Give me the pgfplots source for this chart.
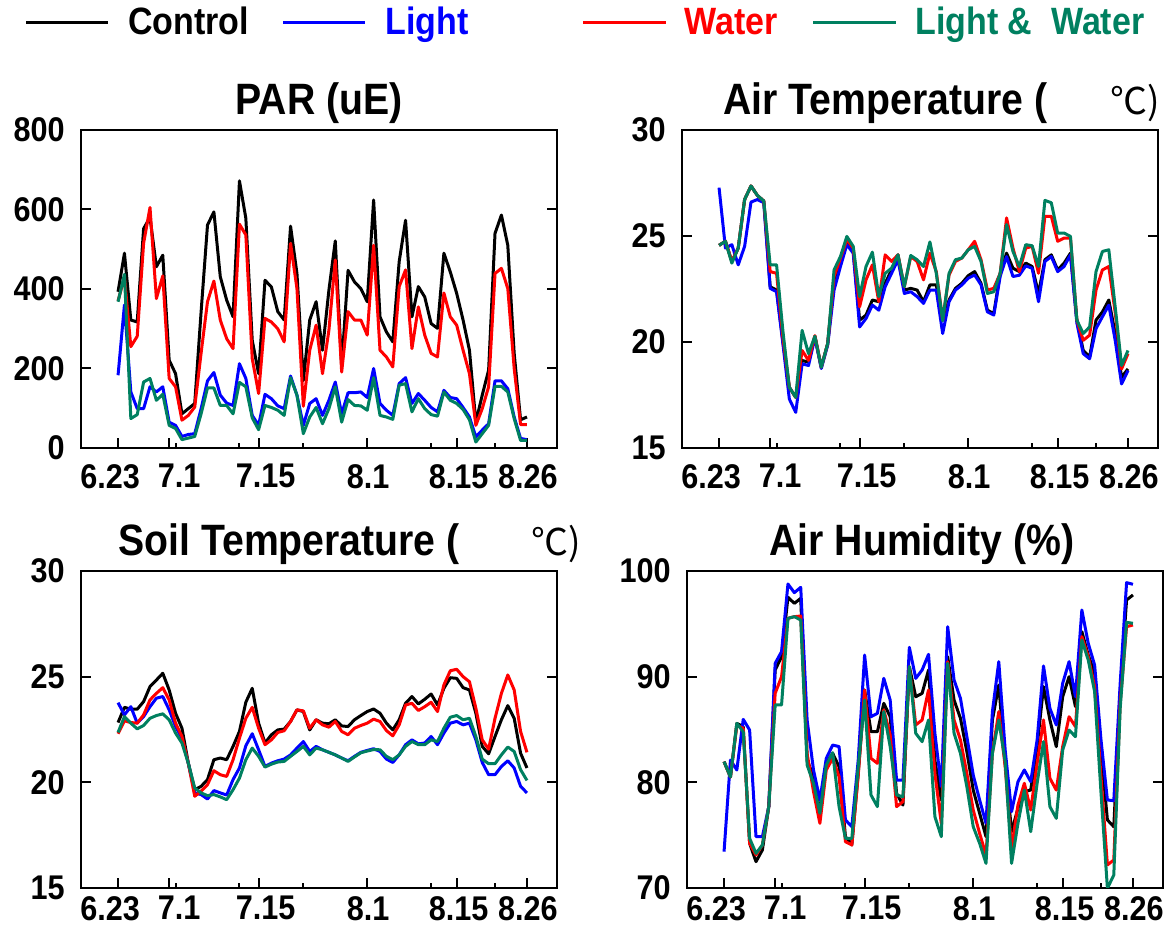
\documentclass[border=0pt]{standalone}
\usepackage{fontspec}
\setmainfont{Liberation Sans}
\newfontfamily\cjk{Noto Sans CJK SC}
\usepackage{graphicx}
\usepackage{pgfplots}
\usepackage{pgfplotstable}
\pgfplotsset{compat=1.18}
\definecolor{lwgreen}{RGB}{0,128,96}
\definecolor{lblue}{RGB}{0,0,255}
\definecolor{wred}{RGB}{255,0,0}
\newcommand\vs[1]{\scalebox{1}[1.12]{#1}}
\newcommand\xs[2]{\makebox[0pt]{\hspace{#1}\vs{#2}}}

\pgfplotstableread{
d c l w lw
0 393 183 370 368
1 490 360 430 437
2 322 141 255 74
3 317 99 281 84
4 552 99 515 166
5 580 154 605 175
6 456 141 376 120
7 485 154 433 135
8 221 65 175 57
9 187 57 154 49
10 86 29 70 21
11 99 34 82 25
12 112 36 103 29
13 343 99 239 86
14 561 169 368 151
15 594 190 420 151
16 431 133 322 107
17 372 113 275 107
18 330 107 250 86
19 672 212 563 165
20 578 175 536 154
21 271 82 225 76
22 187 57 137 46
23 422 135 326 107
24 405 124 317 102
25 343 106 300 95
26 322 99 267 82
27 558 181 515 177
28 439 133 401 133
29 170 57 105 36
30 322 112 246 78
31 368 124 309 102
32 246 82 187 61
33 397 120 296 99
34 521 166 473 154
35 204 86 191 65
36 447 139 343 122
37 418 139 322 107
38 401 141 322 106
39 368 127 284 95
40 624 200 510 177
41 330 112 246 82
42 292 95 229 78
43 267 82 204 72
44 469 162 406 158
45 573 177 448 162
46 330 112 250 91
47 406 137 355 124
48 380 120 284 99
49 313 102 238 84
50 301 91 229 80
51 490 145 390 141
52 443 127 330 120
53 389 124 309 112
54 322 102 246 97
55 246 78 187 71
56 65 28 57 15
57 133 45 99 36
58 196 61 154 57
59 540 169 439 155
60 586 169 452 155
61 510 149 401 141
62 238 78 200 74
63 71 24 59 19
64 78 21 59 19
}\tpar

\pgfplotstableread{
d c l w lw
0 24.56 27.28 24.56 24.56
1 24.75 24.43 24.75 24.75
2 23.80 24.59 23.80 23.72
3 24.43 23.64 24.43 24.43
4 26.72 24.51 26.72 26.72
5 27.36 26.60 27.36 27.36
6 26.91 26.72 26.91 26.91
7 26.65 26.57 26.65 26.65
8 22.60 22.53 23.32 23.64
9 22.45 22.37 23.24 23.64
10 20.00 19.90 20.20 20.50
11 17.86 17.31 17.86 17.86
12 17.39 16.68 17.39 17.39
13 19.13 18.97 19.60 20.55
14 19.05 18.89 19.13 19.45
15 20.27 20.20 20.30 20.27
16 18.81 18.75 18.81 18.81
17 19.92 19.85 19.92 19.92
18 22.93 22.45 23.09 23.40
19 23.88 23.56 23.96 24.03
20 24.67 24.59 24.83 24.98
21 24.27 24.19 24.43 24.51
22 21.03 20.71 21.66 22.14
23 21.27 21.11 22.93 23.56
24 21.98 21.74 23.64 24.24
25 21.90 21.50 21.90 22.14
26 22.77 22.61 24.11 23.24
27 23.40 23.24 23.80 23.48
28 24.11 23.88 24.11 24.11
29 22.45 22.29 22.61 22.61
30 22.53 22.37 24.03 24.08
31 22.45 22.14 23.80 23.88
32 21.90 21.82 22.93 23.56
33 22.69 22.45 24.19 24.72
34 22.69 22.45 23.32 23.24
35 21.03 20.40 21.03 21.00
36 21.98 21.90 23.16 23.24
37 22.53 22.45 23.80 23.88
38 22.77 22.69 23.96 23.96
39 23.13 23.01 24.35 24.35
40 23.32 23.16 24.75 24.51
41 22.77 22.70 23.88 23.80
42 21.50 21.42 22.45 22.29
43 21.34 21.27 22.53 22.37
44 23.24 23.10 23.24 23.24
45 24.19 24.03 25.85 25.54
46 23.48 23.09 24.43 24.27
47 23.32 23.15 23.32 23.56
48 23.72 23.59 24.43 24.59
49 23.56 23.48 24.51 24.54
50 22.29 21.90 23.24 23.56
51 23.88 23.80 25.93 26.68
52 24.11 24.03 25.93 26.57
53 23.40 23.32 24.75 25.14
54 23.72 23.56 24.90 25.14
55 24.19 24.11 24.90 24.98
56 21.03 20.90 21.03 21.03
57 19.60 19.45 20.08 20.40
58 19.29 19.21 20.32 20.71
59 21.03 20.63 22.45 23.32
60 21.42 21.19 23.40 24.27
61 21.98 21.74 23.56 24.35
62 20.40 20.08 21.40 21.66
63 18.34 18.02 18.73 18.89
64 18.73 18.65 19.45 19.60
}\tair

\pgfplotstableread{
d c l w lw
0 22.83 23.77 22.30 22.36
1 23.55 23.19 22.91 23.11
2 23.46 23.58 22.83 22.80
3 23.46 22.80 22.80 22.53
4 23.82 23.11 23.19 22.69
5 24.53 23.58 23.90 23.03
6 24.84 23.98 24.21 23.16
7 25.16 24.06 24.48 23.24
8 24.37 23.43 23.90 22.96
9 23.27 22.64 22.80 22.33
10 22.56 22.09 22.17 21.86
11 20.90 20.90 20.90 20.90
12 19.65 19.50 19.34 19.73
13 19.81 19.42 19.58 19.50
14 20.13 19.21 19.89 19.37
15 21.07 19.61 20.55 19.42
16 21.15 19.50 20.36 19.31
17 21.07 19.40 20.28 19.18
18 21.70 20.13 21.07 19.65
19 22.41 20.68 22.09 20.20
20 23.79 21.73 23.03 21.07
21 24.45 22.30 23.55 21.62
22 22.80 21.54 22.56 21.23
23 21.86 20.75 21.78 20.72
24 22.25 20.91 22.01 20.86
25 22.48 21.02 22.36 20.96
26 22.52 21.10 22.44 20.99
27 22.88 21.30 22.88 21.23
28 23.43 21.62 23.43 21.46
29 23.35 21.93 23.38 21.70
30 22.48 21.46 22.56 21.30
31 22.96 21.70 22.96 21.62
32 22.80 21.54 22.72 21.54
33 22.77 21.42 22.61 21.42
34 22.96 21.30 22.88 21.30
35 22.67 21.15 22.41 21.15
36 22.64 21.02 22.25 20.99
37 22.96 21.23 22.56 21.20
38 23.16 21.42 22.69 21.40
39 23.35 21.51 22.80 21.48
40 23.47 21.59 22.99 21.55
41 23.27 21.46 22.88 21.54
42 22.80 21.10 22.45 21.23
43 22.48 20.94 22.20 21.07
44 22.96 21.30 22.72 21.30
45 23.74 21.78 23.66 21.70
46 24.06 22.01 23.74 21.93
47 23.71 21.82 23.40 21.78
48 23.93 21.86 23.58 21.78
49 24.18 22.17 23.79 22.01
50 23.66 21.78 23.35 21.93
51 24.45 22.33 24.61 22.56
52 24.95 22.80 25.28 23.08
53 24.92 22.88 25.35 23.16
54 24.48 22.72 25.00 22.96
55 24.37 22.80 24.76 23.03
56 23.27 22.01 23.51 22.17
57 21.70 20.94 22.01 21.10
58 21.35 20.36 21.57 20.88
59 22.17 20.36 23.03 20.88
60 22.96 20.75 24.21 21.30
61 23.63 21.02 25.08 21.67
62 23.03 20.68 24.37 21.46
63 21.38 19.81 22.41 20.60
64 20.68 19.50 21.42 20.09
}\tsoil

\pgfplotstableread{
d c l w lw
0 81.96 73.44 81.96 81.96
1 80.50 82.11 80.50 80.50
2 85.58 81.17 85.40 85.58
3 85.27 85.96 85.11 84.79
4 74.23 84.95 74.23 74.70
5 72.49 74.86 73.12 73.28
6 73.60 74.86 74.07 74.07
7 77.70 77.70 77.70 77.70
8 90.63 91.26 88.42 87.32
9 91.89 92.37 90.00 87.32
10 97.51 98.77 95.52 95.52
11 96.94 97.95 95.68 95.68
12 97.41 98.45 95.74 95.36
13 82.11 85.90 82.74 81.64
14 80.54 81.17 79.12 79.91
15 77.07 78.33 76.12 77.07
16 81.80 82.27 81.17 81.64
17 82.74 83.53 82.27 82.81
18 81.48 83.38 80.54 77.70
19 74.86 76.44 74.38 74.70
20 74.07 75.80 74.07 74.70
21 80.85 82.11 80.69 81.48
22 88.74 92.05 88.74 87.79
23 84.79 86.21 82.27 78.80
24 84.79 86.53 81.80 77.70
25 87.48 89.84 86.85 86.69
26 86.21 87.79 84.48 83.38
27 78.96 80.22 77.70 78.80
28 77.85 80.22 78.17 78.64
29 90.95 92.78 90.95 90.95
30 88.10 89.84 85.43 84.64
31 88.42 90.63 85.90 83.85
32 90.63 92.11 88.74 85.90
33 82.11 84.64 80.85 76.75
34 78.33 79.59 76.12 74.86
35 91.89 94.73 91.42 91.26
36 87.79 89.68 85.90 84.64
37 86.06 87.95 84.01 82.74
38 82.90 84.32 80.85 79.59
39 79.27 80.69 77.38 75.80
40 77.07 78.33 75.17 74.23
41 74.86 76.12 73.12 72.33
42 85.90 86.69 82.74 82.74
43 89.21 91.42 86.69 85.90
44 81.80 83.06 81.48 81.96
45 75.33 77.22 73.75 72.33
46 77.54 80.06 77.85 76.12
47 79.12 81.17 79.91 79.27
48 79.27 80.06 77.38 75.33
49 83.38 84.01 81.80 79.91
50 89.05 91.01 85.90 83.85
51 85.90 87.00 80.38 77.70
52 83.38 85.43 79.27 76.59
53 88.10 89.37 83.38 83.06
54 90.00 91.42 86.21 84.95
55 87.16 88.10 85.27 84.32
56 94.26 96.31 93.79 93.47
57 92.05 93.15 91.89 91.58
58 90.32 91.10 89.05 88.58
59 83.00 84.00 80.50 79.00
60 76.44 78.33 72.18 69.97
61 75.80 78.26 72.65 71.23
62 88.42 89.37 87.50 87.00
63 97.26 98.90 94.73 95.14
64 97.73 98.74 94.89 95.05
}\thum

\pgfplotsset{
  panel/.style={
    scale only axis, width=238pt,
    xmin=-5.8, xmax=68.7,
    axis line style={line width=1pt},
    every tick/.style={line width=1pt, black},
    major tick length=5pt, minor tick length=2.5pt,
    tick align=inside, xtick pos=bottom, ytick pos=both,
    xtick={0,8,22,39,53,64},
    xticklabels={\xs{-8pt}{6.23},\xs{10pt}{7.1},\xs{7pt}{7.15},\xs{1pt}{8.1},\xs{2pt}{8.15},\xs{1pt}{8.26}},
    minor xtick={9,19,29,49,59},
    tick label style={font=\fontsize{15.3}{16}\selectfont\bfseries, inner sep=0pt},
    yticklabel style={xshift=-8pt},
    every axis plot/.append style={line width=1.5pt, line join=round, mark=none},
  },
  toprow/.style={panel, height=159pt, xticklabel style={yshift=-8pt}},
  botrow/.style={panel, height=158.5pt, xticklabel style={yshift=-4pt}},
}

\begin{document}
\begin{tikzpicture}
\path[use as bounding box] (0,0) rectangle (584.5pt,463.5pt);

% legend
\begin{scope}[line width=1.5pt]
\draw[black] (13pt,452.2pt) -- (54pt,452.2pt);
\draw[lblue] (141.5pt,452.2pt) -- (182.5pt,452.2pt);
\draw[wred] (291.5pt,452.2pt) -- (333pt,452.2pt);
\draw[lwgreen] (406.5pt,452.2pt) -- (448pt,452.2pt);
\end{scope}
\begin{scope}[every node/.style={anchor=base west, inner sep=0pt, font=\fontsize{17}{18}\selectfont\bfseries}]
\node[text=black] at (63.8pt,446pt) {\vs{Control}};
\node[text=lblue] at (192.5pt,446pt) {\vs{Light}};
\node[text=wred] at (342pt,446pt) {\vs{Water}};
\node[text=lwgreen] at (457.5pt,446pt) {\vs{Light \&\hspace{0.55em}Water}};
\end{scope}

% titles
\begin{scope}[every node/.style={inner sep=0pt, font=\fontsize{19.6}{21}\selectfont\bfseries}]
\node[anchor=base] at (159.5pt,406pt) {\vs{PAR (uE)}};
\node[anchor=base west] at (361.5pt,406pt) {\vs{Air Temperature (}};
\node[anchor=base west] at (555pt,406pt) {\cjk\mdseries\fontsize{18.5}{20}\selectfont ℃)};
\node[anchor=base west] at (59pt,185.5pt) {\vs{Soil Temperature (}};
\node[anchor=base west] at (265.5pt,185.5pt) {\cjk\mdseries\fontsize{18.5}{20}\selectfont ℃)};
\node[anchor=base] at (461pt,185.5pt) {\vs{Air Humidity (\%)}};
\end{scope}

\begin{axis}[toprow, at={(40.5pt,239.5pt)}, anchor=south west,
  ymin=0, ymax=800, ytick={0,200,400,600,800},
  yticklabels={\vs{0},\vs{200},\vs{400},\vs{600},\vs{800}}]
\addplot[black] table[x=d,y=c]{\tpar};
\addplot[lblue] table[x=d,y=l]{\tpar};
\addplot[wred] table[x=d,y=w]{\tpar};
\addplot[lwgreen] table[x=d,y=lw]{\tpar};
\end{axis}

\begin{axis}[toprow, at={(341pt,239.5pt)}, anchor=south west,
  ymin=15, ymax=30, ytick={15,20,25,30},
  yticklabels={\vs{15},\vs{20},\vs{25},\vs{30}}]
\addplot[black] table[x=d,y=c]{\tair};
\addplot[lblue] table[x=d,y=l]{\tair};
\addplot[wred] table[x=d,y=w]{\tair};
\addplot[lwgreen] table[x=d,y=lw]{\tair};
\end{axis}

\begin{axis}[botrow, at={(40.5pt,19.5pt)}, anchor=south west,
  ymin=15, ymax=30, ytick={15,20,25,30},
  yticklabels={\vs{15},\vs{20},\vs{25},\vs{30}}]
\addplot[black] table[x=d,y=c]{\tsoil};
\addplot[lblue] table[x=d,y=l]{\tsoil};
\addplot[wred] table[x=d,y=w]{\tsoil};
\addplot[lwgreen] table[x=d,y=lw]{\tsoil};
\end{axis}

\begin{axis}[botrow, at={(343.5pt,19.5pt)}, anchor=south west,
  ymin=70, ymax=100, ytick={70,80,90,100},
  yticklabels={\vs{70},\vs{80},\vs{90},\vs{100}}]
\addplot[black] table[x=d,y=c]{\thum};
\addplot[lblue] table[x=d,y=l]{\thum};
\addplot[wred] table[x=d,y=w]{\thum};
\addplot[lwgreen] table[x=d,y=lw]{\thum};
\end{axis}
\end{tikzpicture}
\end{document}
